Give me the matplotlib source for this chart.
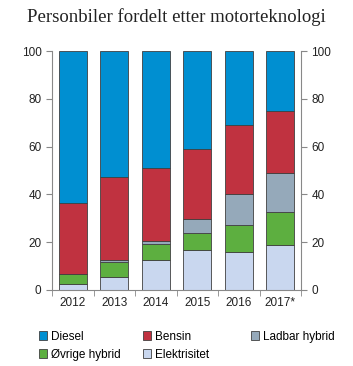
import numpy as np
import matplotlib.pyplot as plt

years = ["2012", "2013", "2014", "2015", "2016", "2017*"]
elektrisitet = [2.4, 5.6, 12.4, 16.9, 15.8, 18.9]
ovrige_hybrid = [4.3, 6.3, 6.9, 7.0, 11.2, 13.8]
ladbar_hybrid = [0.2, 0.5, 1.4, 5.8, 13.1, 16.4]
bensin = [29.4, 35.0, 30.5, 29.5, 29.1, 25.9]
diesel = [63.7, 52.6, 48.8, 40.8, 30.8, 25.0]

series = [
    ("Elektrisitet", elektrisitet, "#c9d7ef"),
    ("Øvrige hybrid", ovrige_hybrid, "#5daf40"),
    ("Ladbar hybrid", ladbar_hybrid, "#95a9ba"),
    ("Bensin", bensin, "#c03240"),
    ("Diesel", diesel, "#008fd1"),
]

plt.rcParams["font.family"] = ["Liberation Sans", "DejaVu Sans"]
fig = plt.figure(figsize=(3.53, 3.66), dpi=100)
ax = fig.add_axes([52 / 353, 1 - 290 / 366, 249 / 353, 239 / 366])

x = np.arange(len(years))
bottom = np.zeros(len(years))
bars = {}
for name, vals, col in series:
    bars[name] = ax.bar(x, vals, 0.68, bottom=bottom, color=col,
                        edgecolor="#404040", linewidth=0.6)
    bottom += np.array(vals)

ax.set_xlim(-0.5, len(years) - 0.5)
ax.set_ylim(0, 100)
ax.set_xticks(x)
ax.set_xticklabels(years)
ax.set_xticks(np.arange(-0.5, len(years)), minor=True)
ax.tick_params(axis="x", which="major", length=0, labelsize=8.5, colors="#222222", pad=5)
ax.tick_params(axis="x", which="minor", length=4, color="#888888")
ax.set_yticks([0, 20, 40, 60, 80, 100])
ax.tick_params(axis="y", which="major", length=4, color="#888888", labelsize=8.5,
               labelcolor="#222222", right=True, labelright=True, direction="out")
ax.spines["top"].set_visible(False)
for s in ["left", "right", "bottom"]:
    ax.spines[s].set_color("#888888")
    ax.spines[s].set_linewidth(0.8)

fig.text(0.5, 1 - 17 / 366, "Personbiler fordelt etter motorteknologi",
         ha="center", va="center", fontsize=13.5, family=["Liberation Serif"], color="#222222")

# one legend per column so the columns sit at fixed positions
columns = [(34, ["Diesel", "Øvrige hybrid"]),
           (138, ["Bensin", "Elektrisitet"]),
           (246, ["Ladbar hybrid"])]
for xpos, names in columns:
    fig.legend([bars[n] for n in names], names, loc="upper left",
               bbox_to_anchor=(xpos / 353, 1 - 326 / 366), frameon=False, fontsize=8.5,
               handlelength=0.7, handleheight=0.7, handletextpad=0.3,
               labelspacing=0.5, borderaxespad=0)

fig.savefig("out.png", dpi=100)
